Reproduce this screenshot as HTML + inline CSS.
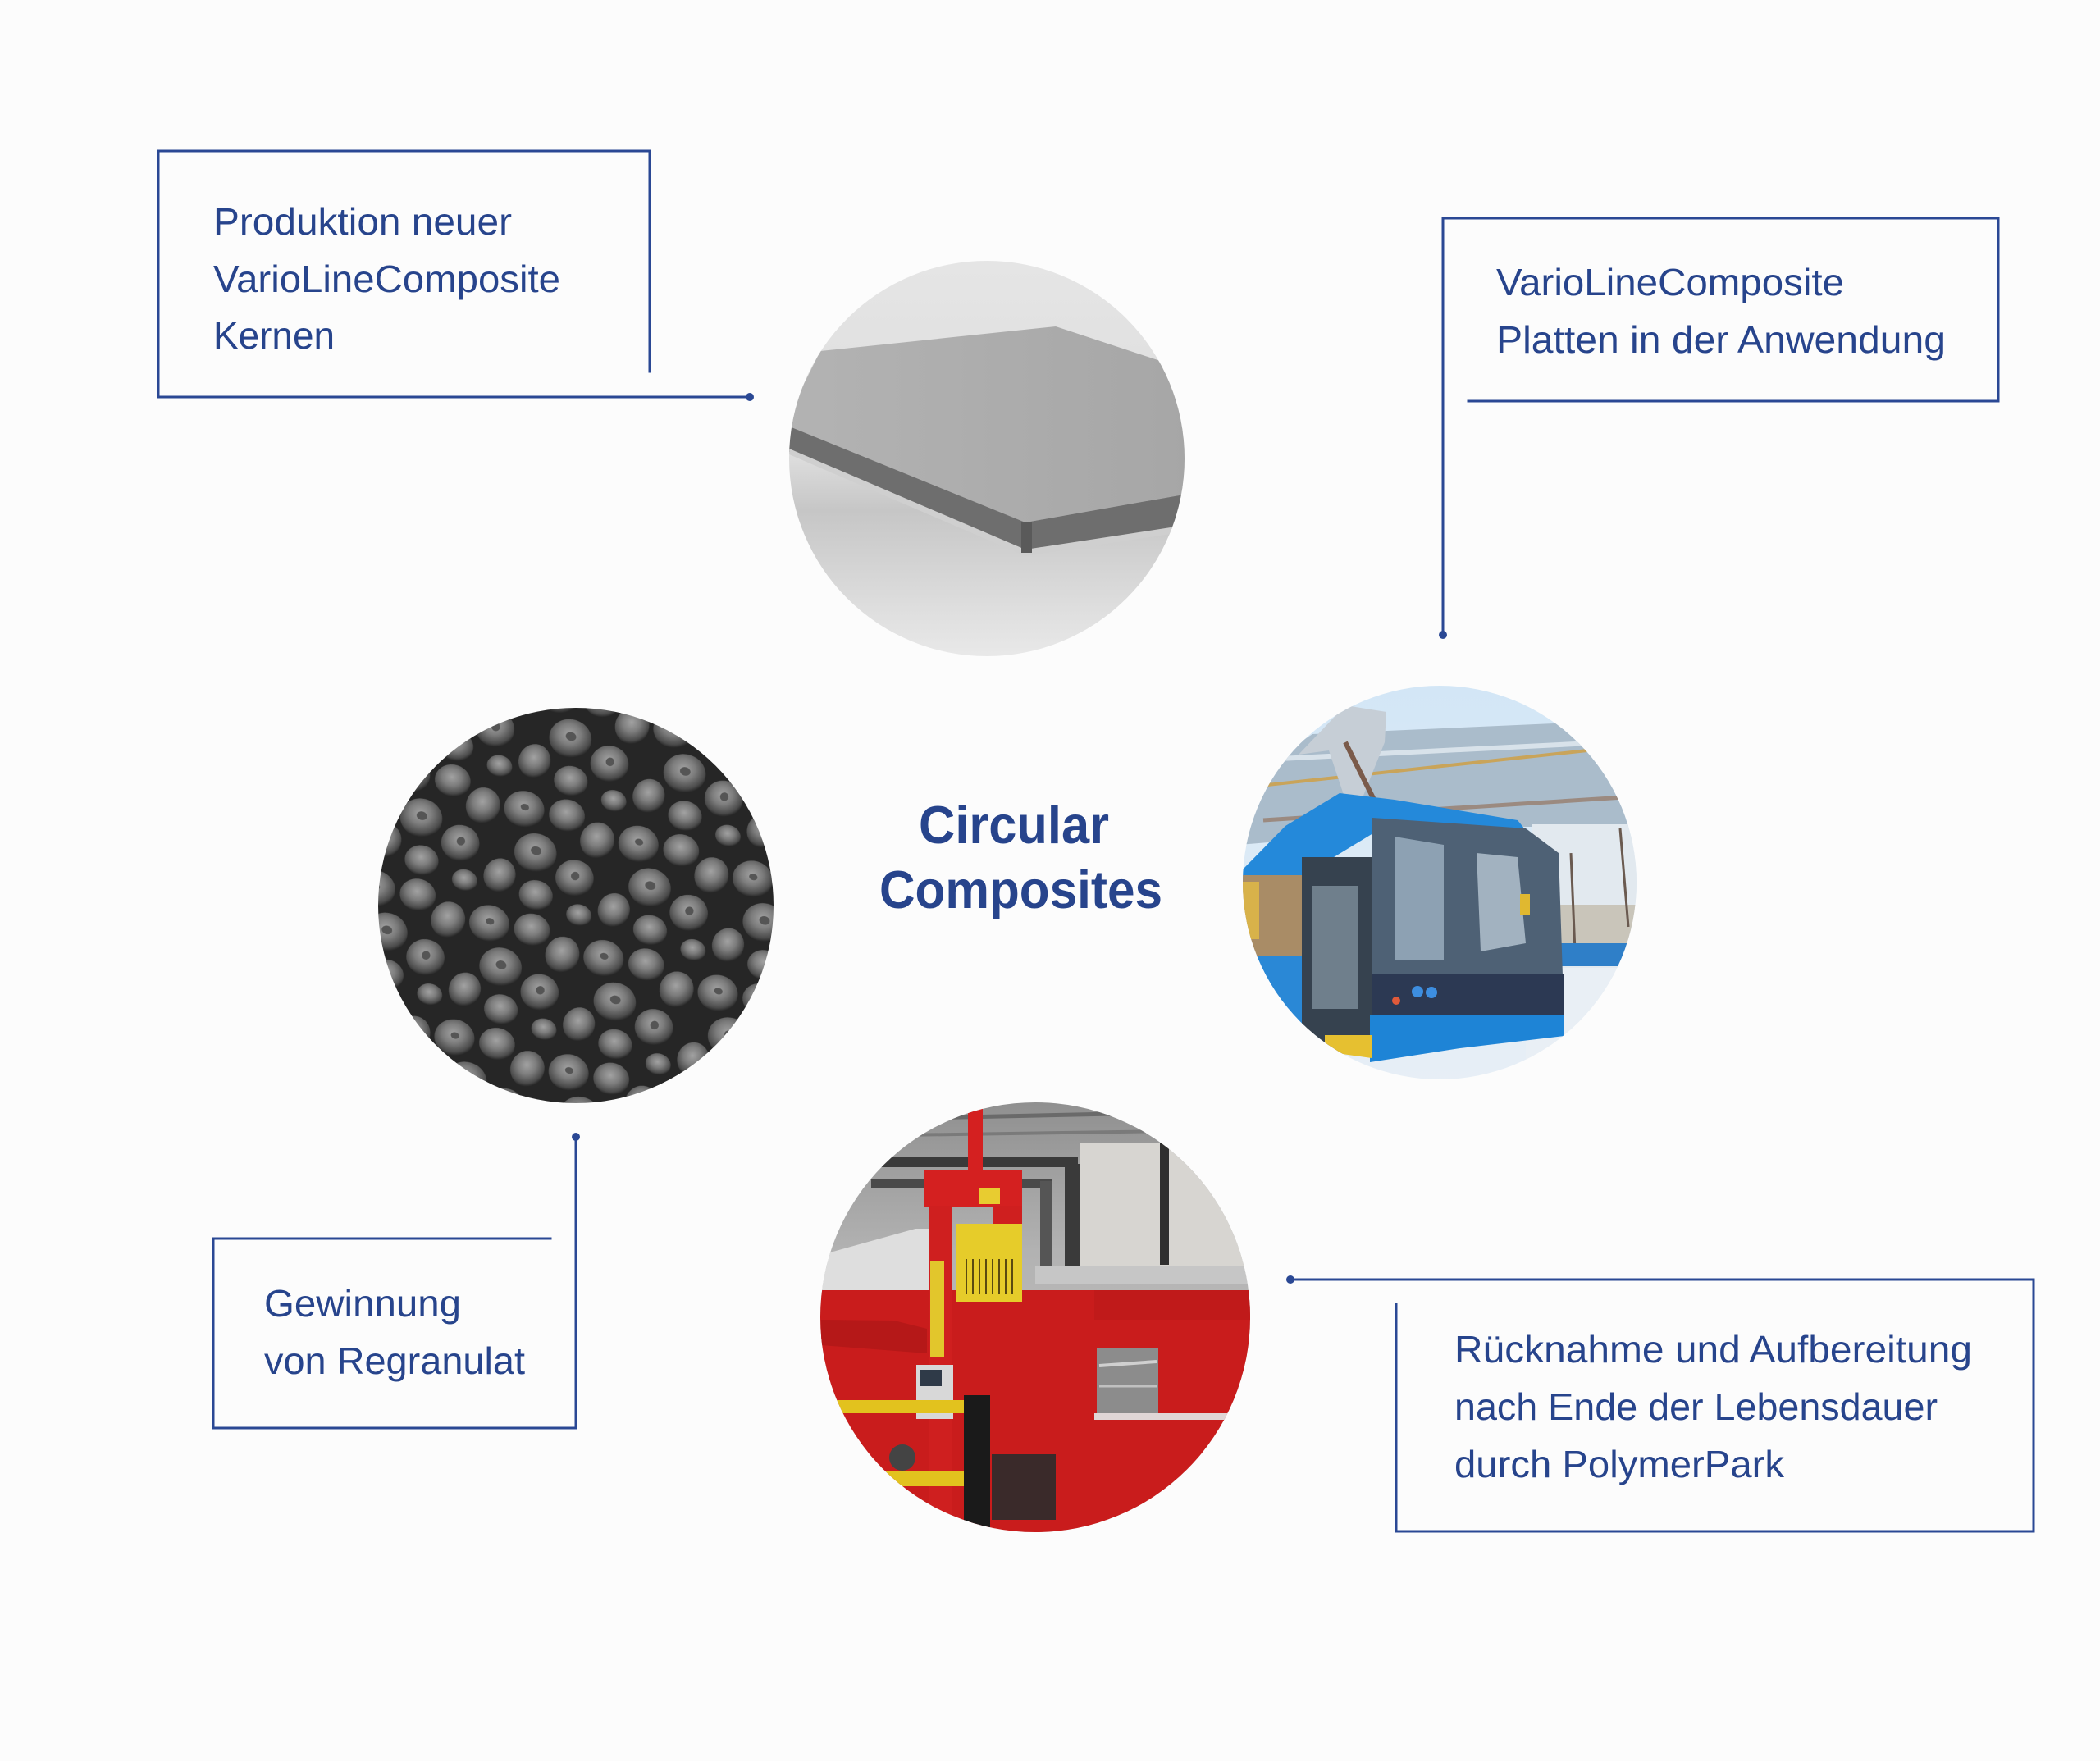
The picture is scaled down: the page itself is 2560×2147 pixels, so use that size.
<!DOCTYPE html>
<html>
<head>
<meta charset="utf-8">
<style>
html,body{margin:0;padding:0;background:#fcfcfc;}
svg{display:block;}
</style>
</head>
<body>
<svg width="2560" height="2147" viewBox="0 0 2560 2147" xmlns="http://www.w3.org/2000/svg">
<defs>
  <clipPath id="c1"><circle cx="1203" cy="559" r="241"/></clipPath>
  <clipPath id="c2"><circle cx="702" cy="1104" r="241"/></clipPath>
  <clipPath id="c3"><circle cx="1755" cy="1076" r="240"/></clipPath>
  <clipPath id="c4"><circle cx="1262" cy="1606" r="262"/></clipPath>
  <linearGradient id="plateBg" x1="0" y1="0" x2="0" y2="1">
    <stop offset="0" stop-color="#e6e6e6"/>
    <stop offset="0.5" stop-color="#dcdcdc"/>
    <stop offset="0.62" stop-color="#c6c6c6"/>
    <stop offset="0.85" stop-color="#dedede"/>
    <stop offset="1" stop-color="#ececec"/>
  </linearGradient>
  <linearGradient id="plateTop" x1="0" y1="0" x2="1" y2="0">
    <stop offset="0" stop-color="#b3b3b3"/>
    <stop offset="1" stop-color="#a6a6a6"/>
  </linearGradient>
  <radialGradient id="pel" cx="0.45" cy="0.4" r="0.6">
    <stop offset="0" stop-color="#a2a2a2"/>
    <stop offset="0.45" stop-color="#7d7d7d"/>
    <stop offset="0.85" stop-color="#4a4a4a"/>
    <stop offset="1" stop-color="#262626"/>
  </radialGradient>
  <pattern id="gran" x="0" y="0" width="112" height="112" patternUnits="userSpaceOnUse" patternTransform="rotate(17) scale(1.3)">
    <rect width="112" height="112" fill="#262626"/>
    <ellipse cx="20" cy="22" rx="19" ry="17" fill="url(#pel)"/>
    <ellipse cx="60" cy="16" rx="17" ry="15" fill="url(#pel)"/>
    <ellipse cx="94" cy="30" rx="16" ry="17" fill="url(#pel)"/>
    <ellipse cx="42" cy="58" rx="20" ry="18" fill="url(#pel)"/>
    <ellipse cx="84" cy="70" rx="18" ry="17" fill="url(#pel)"/>
    <ellipse cx="16" cy="88" rx="15" ry="16" fill="url(#pel)"/>
    <ellipse cx="54" cy="96" rx="16" ry="14" fill="url(#pel)"/>
    <ellipse cx="98" cy="102" rx="12" ry="10" fill="url(#pel)"/>
    <ellipse cx="42" cy="56" rx="5" ry="4" fill="#555"/>
    <ellipse cx="84" cy="68" rx="4" ry="4" fill="#555"/>
    <ellipse cx="20" cy="20" rx="4" ry="3" fill="#555"/>
  </pattern>
  <linearGradient id="sky" x1="0" y1="0" x2="0" y2="1">
    <stop offset="0" stop-color="#d2e6f6"/>
    <stop offset="1" stop-color="#e8eff6"/>
  </linearGradient>
  <linearGradient id="hall" x1="0" y1="0" x2="0" y2="1">
    <stop offset="0" stop-color="#8e8e8e"/>
    <stop offset="0.35" stop-color="#b2b2b2"/>
    <stop offset="1" stop-color="#cfcdca"/>
  </linearGradient>
</defs>

<rect width="2560" height="2147" fill="#fcfcfc"/>

<!-- ===== Circle 1: plate ===== -->
<g clip-path="url(#c1)">
  <rect x="950" y="300" width="520" height="520" fill="url(#plateBg)"/>
  <polygon points="955,518 1000,428 1287,398 1460,455 1460,600 1250,637" fill="url(#plateTop)"/>
  <polygon points="955,517 1250,637 1460,600 1460,642 1250,675 955,548" fill="#6e6e6e"/>
  <polygon points="955,544 1250,670 1460,638 1460,646 1250,678 955,551" fill="#cfcfcf"/>
  <polygon points="1245,637 1258,637 1258,674 1245,674" fill="#5a5a5a"/>
</g>

<!-- ===== Circle 2: granules ===== -->
<g clip-path="url(#c2)">
  <rect x="450" y="850" width="520" height="520" fill="url(#gran)"/>
</g>

<!-- ===== Circle 3: bus ===== -->
<g clip-path="url(#c3)">
  <rect x="1500" y="820" width="520" height="520" fill="url(#sky)"/>
  <polygon points="1510,955 1600,895 1940,880 2000,925 2000,1008 1770,1008 1510,1030" fill="#aabccb"/>
  <line x1="1545" y1="957" x2="1935" y2="915" stroke="#c9a45a" stroke-width="4"/>
  <line x1="1540" y1="1000" x2="1980" y2="972" stroke="#9b8a80" stroke-width="5"/>
  <line x1="1560" y1="925" x2="1960" y2="905" stroke="#d8e2ea" stroke-width="6"/>
  <polygon points="1583,920 1640,860 1690,868 1688,905 1660,975 1640,975 1620,915" fill="#c6ced6"/>
  <line x1="1640" y1="905" x2="1675" y2="975" stroke="#7a5a4a" stroke-width="6"/>
  <rect x="1867" y="1005" width="140" height="190" fill="#e2e9ef"/>
  <rect x="1880" y="1103" width="130" height="55" fill="#c9c5ba"/>
  <line x1="1915" y1="1040" x2="1920" y2="1160" stroke="#6a5a50" stroke-width="3"/>
  <line x1="1975" y1="1010" x2="1985" y2="1130" stroke="#6a5a50" stroke-width="3"/>
  <rect x="1890" y="1150" width="110" height="28" fill="#2f7fc8"/>
  <rect x="1860" y="1180" width="150" height="160" fill="#e9eff5"/>
  <polygon points="1515,1060 1567,1007 1633,967 1700,975 1850,1000 1868,1022 1687,1008 1585,1070 1515,1075" fill="#2489da"/>
  <rect x="1515" y="1067" width="75" height="100" fill="#a98c66"/>
  <rect x="1515" y="1075" width="20" height="70" fill="#d8b24a"/>
  <rect x="1515" y="1165" width="75" height="100" fill="#2a88d6"/>
  <rect x="1587" y="1045" width="88" height="240" fill="#36424f"/>
  <rect x="1600" y="1080" width="55" height="150" fill="#6f7f8c"/>
  <polygon points="1673,997 1860,1010 1900,1040 1905,1190 1673,1190" fill="#4e6175"/>
  <polygon points="1700,1020 1760,1030 1760,1170 1700,1170" fill="#8da1b3"/>
  <polygon points="1800,1040 1850,1045 1860,1150 1805,1160" fill="#a2b2c0"/>
  <rect x="1853" y="1090" width="12" height="25" fill="#e0b830"/>
  <rect x="1673" y="1187" width="234" height="55" fill="#2c3953"/>
  <circle cx="1728" cy="1209" r="7" fill="#3d8ee0"/>
  <circle cx="1745" cy="1210" r="7" fill="#3d8ee0"/>
  <circle cx="1702" cy="1220" r="5" fill="#e05a3a"/>
  <polygon points="1670,1237 1907,1237 1907,1263 1780,1278 1670,1295" fill="#1e84d6"/>
  <polygon points="1615,1262 1672,1262 1672,1290 1615,1282" fill="#e6c030"/>
</g>

<!-- ===== Circle 4: red machine ===== -->
<g clip-path="url(#c4)">
  <rect x="990" y="1335" width="545" height="545" fill="url(#hall)"/>
  <rect x="1316" y="1394" width="210" height="158" fill="#d7d5d1"/>
  <line x1="1030" y1="1365" x2="1500" y2="1355" stroke="#6a6a6a" stroke-width="5"/>
  <line x1="1030" y1="1385" x2="1500" y2="1378" stroke="#7a7a7a" stroke-width="4"/>
  <rect x="1062" y="1410" width="252" height="13" fill="#3a3a3a"/>
  <rect x="1062" y="1437" width="220" height="11" fill="#4a4a4a"/>
  <rect x="1298" y="1419" width="18" height="134" fill="#3a3a3a"/>
  <rect x="1268" y="1440" width="14" height="110" fill="#555"/>
  <rect x="1414" y="1394" width="11" height="148" fill="#2f2f2f"/>
  <rect x="1262" y="1544" width="260" height="22" fill="#c6c6c6"/>
  <polygon points="1001,1530 1116,1498 1132,1498 1132,1580 1019,1616 1001,1609" fill="#dedede"/>
  <rect x="990" y="1573" width="545" height="310" fill="#c91c1c"/>
  <polygon points="1001,1609 1090,1610 1130,1620 1130,1650 1001,1640" fill="#b51818"/>
  <rect x="1334" y="1573" width="195" height="36" fill="#c01a1a"/>
  <rect x="1337" y="1644" width="75" height="79" fill="#8c8c8c"/>
  <line x1="1340" y1="1665" x2="1410" y2="1660" stroke="#d0d0d0" stroke-width="4"/>
  <line x1="1340" y1="1690" x2="1410" y2="1690" stroke="#c0c0c0" stroke-width="3"/>
  <rect x="1334" y="1723" width="195" height="8" fill="#e0d6d6"/>
  <rect x="1180" y="1350" width="18" height="85" fill="#d42020"/>
  <rect x="1126" y="1426" width="120" height="45" fill="#d42020"/>
  <rect x="1132" y="1470" width="28" height="400" fill="#cf1f1f"/>
  <rect x="1210" y="1470" width="36" height="30" fill="#cf1f1f"/>
  <rect x="1194" y="1448" width="25" height="20" fill="#e8cc30"/>
  <rect x="1166" y="1492" width="80" height="95" fill="#e6cc2a"/>
  <g stroke="#5a4a10" stroke-width="2">
    <line x1="1178" y1="1535" x2="1178" y2="1578"/><line x1="1186" y1="1535" x2="1186" y2="1578"/>
    <line x1="1194" y1="1535" x2="1194" y2="1578"/><line x1="1202" y1="1535" x2="1202" y2="1578"/>
    <line x1="1210" y1="1535" x2="1210" y2="1578"/><line x1="1218" y1="1535" x2="1218" y2="1578"/>
    <line x1="1226" y1="1535" x2="1226" y2="1578"/><line x1="1234" y1="1535" x2="1234" y2="1578"/>
  </g>
  <rect x="1134" y="1537" width="17" height="118" fill="#e2c62c"/>
  <rect x="1209" y="1773" width="78" height="80" fill="#3a2a2a"/>
  <rect x="1117" y="1664" width="45" height="66" fill="#d8d8d8"/>
  <rect x="1122" y="1670" width="26" height="20" fill="#2f3a48"/>
  <rect x="1019" y="1707" width="172" height="16" fill="#e2c21e"/>
  <rect x="1080" y="1794" width="111" height="18" fill="#e2c21e"/>
  <rect x="1175" y="1701" width="32" height="165" fill="#1a1a1a"/>
  <circle cx="1100" cy="1777" r="16" fill="#444"/>
</g>

<!-- ===== Connector boxes ===== -->
<g stroke="#2a4894" stroke-width="3" fill="none" stroke-linecap="square">
  <polyline points="792,453 792,184 193,184 193,484 914,484"/>
  <polyline points="1759,774 1759,266 2436,266 2436,489 1790,489"/>
  <polyline points="671,1510 260,1510 260,1741 702,1741 702,1386"/>
  <polyline points="1573,1560 2479,1560 2479,1867 1702,1867 1702,1590"/>
</g>
<g fill="#2a4894">
  <circle cx="914" cy="484" r="5"/>
  <circle cx="1759" cy="774" r="5"/>
  <circle cx="702" cy="1386" r="5"/>
  <circle cx="1573" cy="1560" r="5"/>
</g>

<!-- ===== Text ===== -->
<g font-family="'Liberation Sans', sans-serif" font-size="46" fill="#27448c">
  <text x="260" y="286" textLength="364" lengthAdjust="spacingAndGlyphs">Produktion neuer</text>
  <text x="260" y="356" textLength="423" lengthAdjust="spacingAndGlyphs">VarioLineComposite</text>
  <text x="260" y="425" textLength="148" lengthAdjust="spacingAndGlyphs">Kernen</text>

  <text x="1824" y="360" textLength="424" lengthAdjust="spacingAndGlyphs">VarioLineComposite</text>
  <text x="1824" y="430" textLength="548" lengthAdjust="spacingAndGlyphs">Platten in der Anwendung</text>

  <text x="322" y="1605" textLength="240" lengthAdjust="spacingAndGlyphs">Gewinnung</text>
  <text x="322" y="1675" textLength="318" lengthAdjust="spacingAndGlyphs">von Regranulat</text>

  <text x="1773" y="1661" textLength="631" lengthAdjust="spacingAndGlyphs">Rücknahme und Aufbereitung</text>
  <text x="1773" y="1731" textLength="589" lengthAdjust="spacingAndGlyphs">nach Ende der Lebensdauer</text>
  <text x="1773" y="1801" textLength="402" lengthAdjust="spacingAndGlyphs">durch PolymerPark</text>
</g>
<g font-family="'Liberation Sans', sans-serif" font-size="65" font-weight="bold" fill="#27448c">
  <text x="1120" y="1028" textLength="232" lengthAdjust="spacingAndGlyphs">Circular</text>
  <text x="1072" y="1107" textLength="345" lengthAdjust="spacingAndGlyphs">Composites</text>
</g>
</svg>
</body>
</html>
